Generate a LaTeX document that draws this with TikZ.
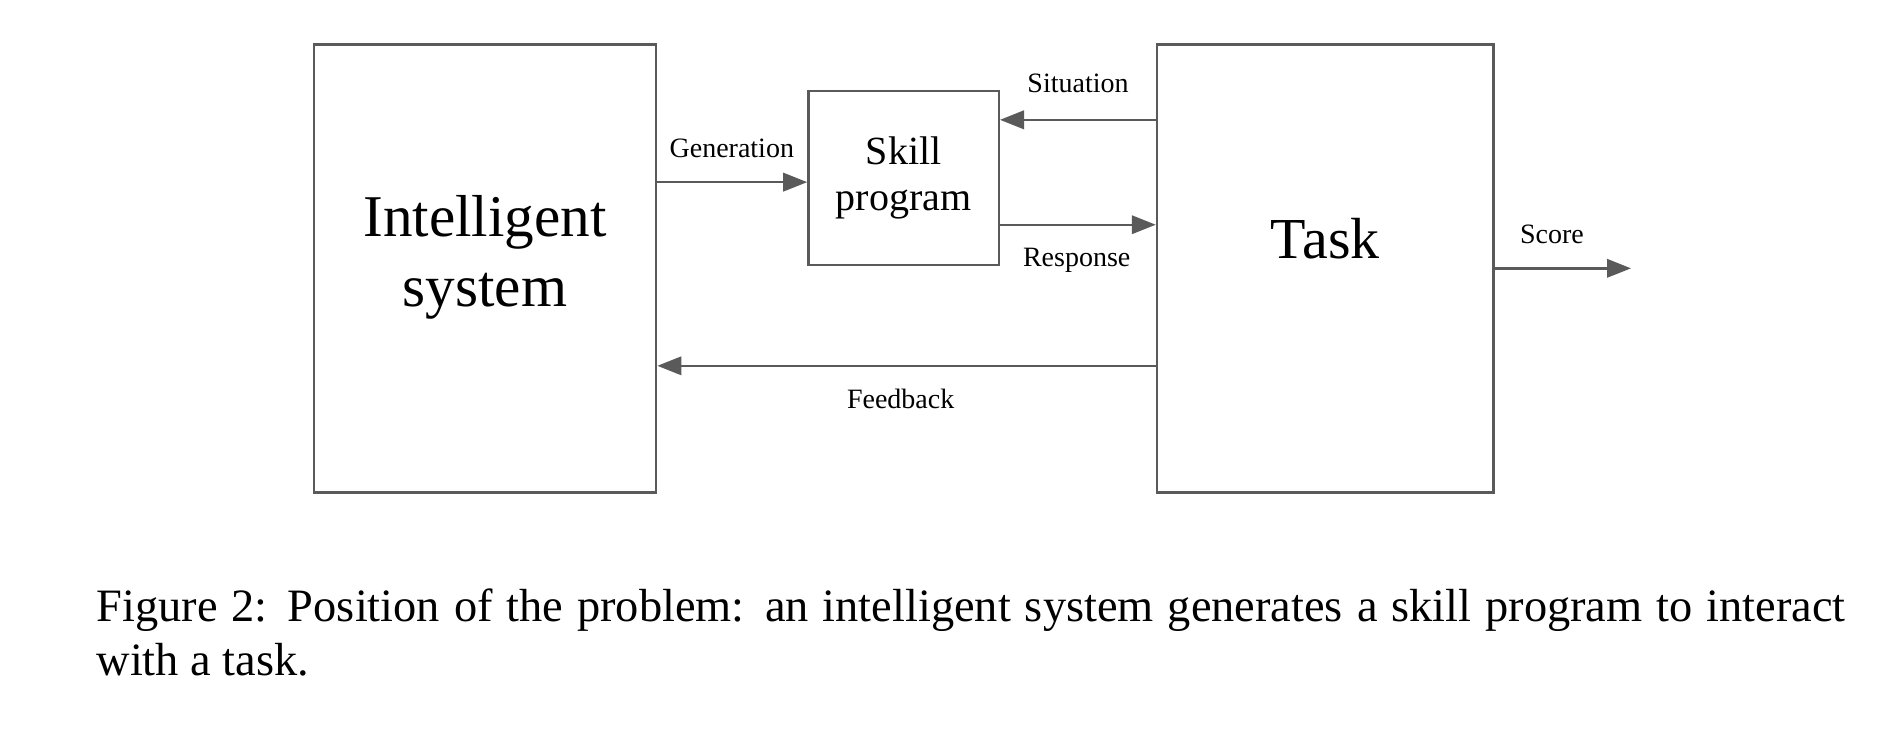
\documentclass[tikz,border=0pt]{standalone}
\usepackage{fontspec}
\setmainfont{Liberation Serif}
\usetikzlibrary{arrows.meta,calc}
\definecolor{linegray}{HTML}{5A5A5A}
\begin{document}
\begin{tikzpicture}[x=0.25pt,y=-0.25pt,
    block/.style={rectangle,draw=linegray,line width=0.6pt,inner sep=0pt,align=center},
    flow/.style={draw=linegray,line width=0.6pt,-{Triangle[length=6pt,width=4.6pt]},color=linegray},
    lbl/.style={inner sep=0pt,font=\fontsize{7}{8}\selectfont}]
  \useasboundingbox (0,0) rectangle (1878,730);
  % the three blocks
  \node[block,minimum width=85.6pt,minimum height=112pt,text depth=8.7pt,font=\fontsize{14.8}{17.7}\selectfont] (intel) at (485,268.3) {Intelligent\\system};
  \node[block,minimum width=47.6pt,minimum height=43.4pt,font=\fontsize{10}{11.4}\selectfont] (skill) at (903.6,177.9) {Skill\\program};
  \node[block,minimum width=84.1pt,minimum height=112pt,text depth=15pt,font=\fontsize{14.5}{17}\selectfont] (task) at (1325.2,268.3) {Task};
  \coordinate (scoreend) at (1631,268.3);
  % connectors
  \draw[flow] (intel.east |- {$(skill.north west)!0.524!(skill.south west)$}) -- ($(skill.north west)!0.524!(skill.south west)$);
  \draw[flow] (task.west |- {$(skill.north east)!0.17!(skill.south east)$}) -- ($(skill.north east)!0.17!(skill.south east)$);
  \draw[flow] ($(skill.north east)!0.766!(skill.south east)$) -- (task.west |- {$(skill.north east)!0.766!(skill.south east)$});
  \draw[flow] ($(task.north west)!0.7165!(task.south west)$) -- (intel.east |- {$(task.north west)!0.7165!(task.south west)$});
  \draw[flow] (task.east) -- (scoreend);
  % labels
  \node[lbl] (generation) at (731.8,148.5) {Generation};
  \node[lbl] (situation) at (1078,83.8) {Situation};
  \node[lbl] (response) at (1076.7,260) {Response};
  \node[lbl] (feedback) at (900.7,398.8) {Feedback};
  \node[lbl] (score) at (1552,234.7) {Score};
  % caption
  \node[anchor=north west,inner sep=0pt,text width=437.25pt,align=justify,font=\fontsize{11.6}{13.5}\selectfont] (caption) at (95.8,588)
    {Figure 2: Position of the problem: an intelligent system generates a skill program to interact\linebreak with a task.};
\end{tikzpicture}
\end{document}
